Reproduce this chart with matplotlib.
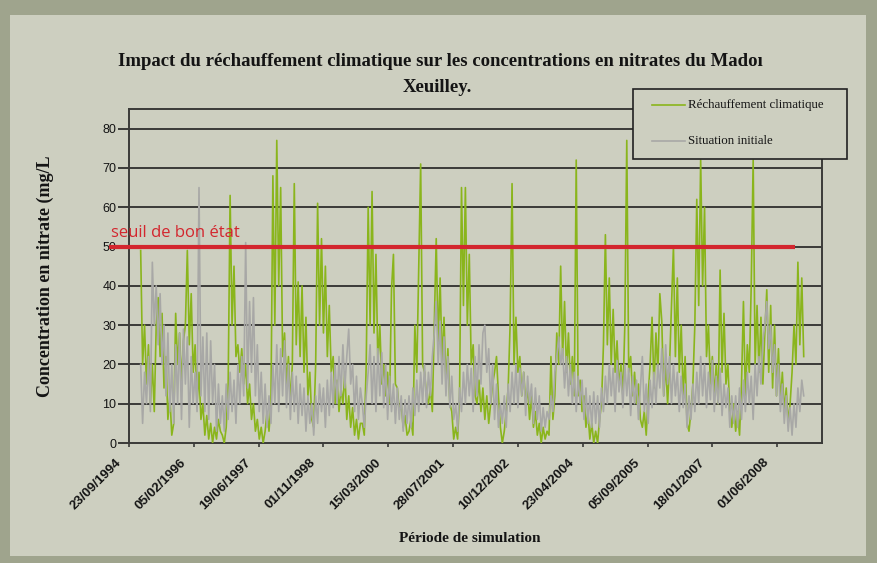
import numpy as np
import matplotlib
matplotlib.use("Agg")
import matplotlib.pyplot as plt
from matplotlib.patches import Rectangle
from matplotlib.lines import Line2D
from matplotlib.transforms import ScaledTranslation
import datetime as dt

nan = np.nan

# ---------------- data ----------------
START_DATE = dt.date(1994, 9, 23)
STEP_DAYS = 15

RECHAUFFEMENT = [
    nan, nan, nan, nan, nan, nan, 49, 20, 30, 15, 25, 10, 20, 8, 30, 37, 22, 33, 14, 22, 6, 12, 2, 5,
    33, 20, 28, 15, 26, 30, 49, 25, 38, 18, 25, 10, 18, 6, 10, 2, 7, 1, 5, 0, 4, 1, 6, 3,
    2, 0, 4, 15, 63, 30, 45, 22, 25, 18, 24, 15, 20, 10, 15, 6, 10, 3, 6, 1, 4, 0, 3, 8,
    3, 10, 68, 30, 77, 40, 65, 22, 28, 15, 22, 10, 20, 66, 25, 41, 22, 40, 18, 32, 12, 18, 6, 4,
    20, 61, 30, 52, 28, 45, 22, 35, 18, 22, 10, 16, 8, 14, 10, 18, 6, 12, 4, 9, 2, 6, 1, 5,
    5, 2, 20, 60, 30, 64, 28, 48, 20, 30, 15, 20, 12, 18, 10, 39, 48, 15, 14, 8, 10, 4, 7, 2,
    3, 6, 2, 30, 18, 45, 71, 20, 18, 12, 10, 14, 8, 30, 52, 25, 42, 20, 32, 15, 24, 10, 8, 1,
    4, 1, 12, 65, 35, 65, 30, 48, 20, 25, 12, 10, 16, 8, 14, 6, 12, 5, 10, 15, 18, 22, 12, 4,
    0, 3, 8, 14, 30, 66, 20, 32, 18, 22, 12, 18, 10, 14, 6, 12, 4, 8, 2, 5, 0, 4, 1, 3,
    2, 22, 6, 12, 28, 20, 45, 22, 36, 18, 28, 15, 22, 12, 72, 12, 16, 8, 12, 4, 8, 1, 5, 0,
    3, 0, 6, 10, 25, 53, 25, 42, 20, 34, 18, 26, 14, 20, 12, 30, 77, 18, 22, 12, 18, 10, 15, 6,
    4, 8, 2, 12, 20, 32, 14, 28, 18, 38, 31, 12, 20, 10, 20, 35, 50, 22, 42, 18, 30, 12, 22, 5,
    3, 8, 15, 30, 62, 35, 72, 40, 60, 22, 30, 15, 22, 12, 20, 10, 44, 18, 33, 15, 20, 8, 4, 10,
    3, 8, 2, 15, 36, 12, 25, 18, 40, 72, 20, 35, 18, 32, 15, 28, 39, 18, 35, 14, 30, 12, 24, 10,
    18, 8, 14, 5, 10, 18, 30, 20, 46, 25, 42, 22,
]

SITUATION_INITIALE = [
    nan, nan, nan, nan, nan, nan, 20, 5, 18, 10, 22, 8, 46, 30, 40, 25, 38, 20, 30, 12, 28, 8, 20, 5,
    25, 10, 28, 6, 29, 15, 27, 4, 22, 10, 18, 8, 65, 12, 27, 8, 28, 6, 26, 10, 20, 3, 15, 5,
    12, 3, 15, 6, 18, 8, 16, 5, 20, 10, 22, 12, 51, 14, 36, 18, 37, 12, 25, 8, 18, 5, 15, 4,
    12, 5, 20, 10, 25, 8, 24, 12, 26, 9, 20, 6, 18, 8, 17, 5, 15, 7, 14, 3, 12, 5, 10, 2,
    12, 5, 15, 8, 14, 4, 16, 7, 18, 9, 20, 10, 22, 12, 25, 14, 22, 29, 15, 20, 8, 17, 6, 14,
    10, 4, 12, 18, 25, 10, 22, 8, 24, 12, 23, 9, 20, 6, 17, 8, 15, 5, 14, 6, 12, 3, 11, 5,
    12, 4, 14, 7, 16, 8, 18, 10, 20, 9, 18, 12, 22, 28, 36, 20, 31, 15, 27, 12, 22, 9, 17, 6,
    10, 3, 14, 8, 18, 10, 20, 12, 19, 8, 22, 12, 25, 15, 28, 30, 18, 24, 10, 20, 6, 15, 4, 10,
    5, 12, 4, 15, 8, 18, 10, 20, 9, 19, 12, 18, 7, 17, 10, 15, 5, 14, 6, 12, 3, 9, 4, 8,
    6, 12, 8, 18, 22, 27, 20, 24, 14, 22, 12, 20, 10, 18, 8, 17, 10, 16, 6, 14, 5, 12, 4, 13,
    5, 12, 4, 14, 8, 17, 10, 20, 12, 19, 8, 21, 13, 18, 9, 20, 12, 19, 7, 17, 10, 16, 6, 14,
    22, 8, 15, 5, 16, 9, 18, 10, 20, 14, 24, 12, 25, 15, 22, 10, 20, 12, 18, 8, 17, 9, 15, 4,
    12, 6, 15, 8, 18, 10, 22, 12, 20, 9, 18, 11, 21, 8, 17, 10, 19, 7, 15, 9, 14, 4, 12, 5,
    12, 4, 14, 6, 16, 8, 18, 10, 17, 6, 20, 12, 22, 15, 26, 30, 36, 24, 30, 18, 25, 12, 20, 8,
    15, 5, 12, 3, 9, 2, 10, 4, 14, 8, 16, 12,
]

TICK_LABELS = ["23/09/1994", "05/02/1996", "19/06/1997", "01/11/1998", "15/03/2000",
               "28/07/2001", "10/12/2002", "23/04/2004", "05/09/2005", "18/01/2007",
               "01/06/2008"]
Y_TICKS = [0, 10, 20, 30, 40, 50, 60, 70, 80]

SEUIL = 50
SEUIL_LABEL = "seuil de bon état"
SEUIL_START = dt.date(1994, 4, 20)
SEUIL_END = dt.date(2008, 10, 15)
X_END = dt.date(2009, 5, 13)

TITLE_1 = "Impact du réchauffement climatique sur les concentrations en nitrates du Madoı"
TITLE_2 = "Xeuilley."
YLABEL = "Concentration en nitrate (mg/L"
XLABEL = "Période de simulation"
LEG_LABELS = ["Réchauffement climatique", "Situation initiale"]

# ---------------- style ----------------
W, H = 877, 563
BAND = "#9fa48d"
PANEL = "#cdcfc0"
GREEN = "#8ab51c"
GREY = "#a8a8a6"
RED = "#d3262e"
GRID = "#3a3a38"
TXT = "#141414"

fig = plt.figure(figsize=(W / 100, H / 100), dpi=100, facecolor=BAND)
fig.patches.append(Rectangle((10 / W, 1 - 556 / H), (866 - 10) / W, (556 - 15) / H,
                             transform=fig.transFigure, facecolor=PANEL,
                             edgecolor="none", zorder=-10))

ax = fig.add_axes([129 / W, 1 - 443 / H, (822 - 129) / W, (443 - 109) / H])
ax.set_zorder(2)
ax.set_facecolor(PANEL)

dates = [START_DATE + dt.timedelta(days=STEP_DAYS * i) for i in range(len(RECHAUFFEMENT))]

ax.plot(dates, RECHAUFFEMENT, color=GREEN, lw=1.2, zorder=3)
ax.plot(dates, SITUATION_INITIALE, color=GREY, lw=1.2, zorder=4)

ax.set_ylim(0, 85)
ax.set_xlim(START_DATE, X_END)
ax.set_yticks(Y_TICKS)
for v in Y_TICKS[1:]:
    ax.axhline(v, color=GRID, lw=1.4, zorder=1)

tick_dates = [dt.datetime.strptime(s, "%d/%m/%Y").date() for s in TICK_LABELS]
ax.set_xticks(tick_dates)
ax.set_xticklabels(TICK_LABELS, rotation=45, ha="right", va="top",
                   rotation_mode="anchor", fontsize=9.5, fontweight="bold",
                   family="Liberation Sans", color=TXT)
ax.tick_params(axis="x", length=3, width=1.2, color=GRID, pad=3)
ax.tick_params(axis="y", length=8, width=1.4, color=GRID, pad=1, labelsize=9,
               labelcolor=TXT)
for lab in ax.get_yticklabels():
    lab.set_family("Liberation Sans")
shift = ScaledTranslation(-0.14, -0.05, fig.dpi_scale_trans)
for lab in ax.get_xticklabels():
    lab.set_transform(lab.get_transform() + shift)

for s in ax.spines.values():
    s.set_color(GRID)
    s.set_linewidth(1.4)

# threshold line
ax.plot([SEUIL_START, SEUIL_END], [SEUIL, SEUIL], color=RED, lw=3.0,
        clip_on=False, zorder=6, solid_capstyle="butt")
ax.text(SEUIL_START + dt.timedelta(days=20), SEUIL + 2.3, SEUIL_LABEL, color=RED,
        fontsize=12, family="Open Sans", ha="left", va="baseline",
        clip_on=False, zorder=7)

# titles
fig.text(440 / W, 1 - 62 / H, TITLE_1, ha="center", va="center",
         family="Liberation Serif", fontweight="bold", fontsize=13.5, color=TXT)
fig.text(437 / W, 1 - 88 / H, TITLE_2, ha="center", va="center",
         family="Liberation Serif", fontweight="bold", fontsize=13.5, color=TXT)
fig.text(45 / W, 1 - 276 / H, YLABEL, rotation=90, ha="center", va="center",
         family="Liberation Serif", fontweight="bold", fontsize=13, color=TXT)
fig.text(470 / W, 1 - 538 / H, XLABEL, ha="center", va="center",
         family="Liberation Serif", fontweight="bold", fontsize=11, color=TXT)

# legend box (drawn over the frame, as in the reference)
fig.patches.append(Rectangle((633 / W, 1 - 159 / H), (847 - 633) / W, (159 - 89) / H,
                             transform=fig.transFigure, facecolor=PANEL,
                             edgecolor="#222222", lw=1.2, zorder=10))
for k, (lab, col) in enumerate(zip(LEG_LABELS, [GREEN, GREY])):
    yy = 1 - (105 + 36 * k) / H
    fig.add_artist(Line2D([652 / W, 685 / W], [yy, yy], transform=fig.transFigure,
                          color=col, lw=1.2, zorder=11))
    fig.text(688 / W, yy, lab, ha="left", va="center", family="Liberation Serif",
             fontsize=9.3, color=TXT, zorder=11)

fig.savefig("out.png", dpi=100, facecolor=BAND)
